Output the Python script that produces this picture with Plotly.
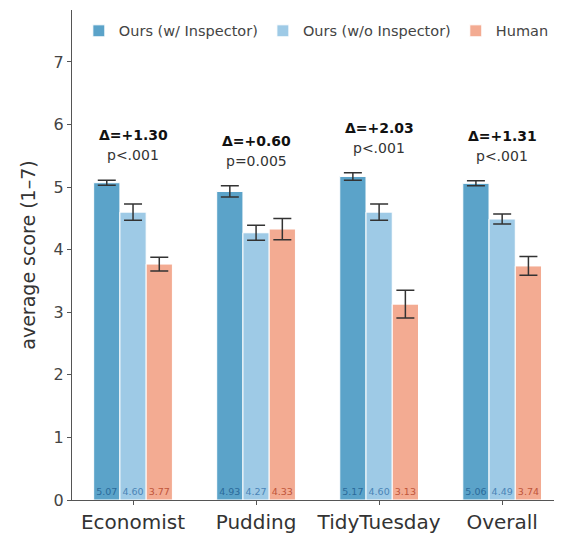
import plotly.graph_objects as go

categories = ["Economist", "Pudding", "TidyTuesday", "Overall"]
series_names = ["Ours (w/ Inspector)", "Ours (w/o Inspector)", "Human"]
with_inspector = [5.07, 4.93, 5.17, 5.06]
without_inspector = [4.60, 4.27, 4.60, 4.49]
human = [3.77, 4.33, 3.13, 3.74]
err_with = [0.04, 0.09, 0.06, 0.04]
err_without = [0.13, 0.12, 0.13, 0.08]
err_human = [0.11, 0.17, 0.22, 0.15]
deltas = ["Δ=+1.30", "Δ=+0.60", "Δ=+2.03", "Δ=+1.31"]
pvals = ["p<.001", "p=0.005", "p<.001", "p<.001"]
y_ticks = [0, 1, 2, 3, 4, 5, 6, 7]

bar_colors = ["#5ba3c9", "#9ecae6", "#f3ab92"]
label_colors = ["#2a6a9a", "#4a84b6", "#c0553a"]
FONT = "DejaVu Sans"

values = [with_inspector, without_inspector, human]
errors = [err_with, err_without, err_human]

fig = go.Figure()
for name, vals, errs, col, lcol in zip(series_names, values, errors, bar_colors, label_colors):
    fig.add_trace(go.Bar(
        name=name, x=categories, y=vals,
        marker=dict(color=col, line=dict(color="white", width=1)),
        error_y=dict(type="data", array=errs, visible=True, color="#333333", thickness=1.5, width=9),
        text=[f"{v:.2f}" for v in vals],
        textposition="inside", insidetextanchor="start", textangle=0,
        insidetextfont=dict(size=9.5, color=lcol, family=FONT),
        constraintext="none",
    ))

for i, cat in enumerate(categories):
    top = max(v[i] + e[i] for v, e in zip(values, errors))
    fig.add_annotation(x=cat, y=top + 0.72, text=f"<b>{deltas[i]}</b>", showarrow=False,
                       font=dict(size=14, color="#111111", family=FONT), yanchor="middle")
    fig.add_annotation(x=cat, y=top + 0.40, text=pvals[i], showarrow=False,
                       font=dict(size=14, color="#333333", family=FONT), yanchor="middle")

# the page body has an 8px margin, so the figure is sized to fit the 562x537 window
fig.update_layout(
    width=554, height=529,
    margin=dict(l=64, r=2, t=2, b=37),
    barmode="group", bargap=0.36, bargroupgap=0.0,
    plot_bgcolor="white", paper_bgcolor="white",
    font=dict(family=FONT, color="#333333"),
    showlegend=True,
    legend=dict(orientation="h", x=0.014, y=0.99, xanchor="left", yanchor="top",
                font=dict(size=14.5, color="#444444", family=FONT), bgcolor="rgba(0,0,0,0)",
                itemwidth=30),
    xaxis=dict(range=[-0.496, 3.47], showline=True, linecolor="#555555", linewidth=1.2,
               ticks="outside", ticklen=4, tickcolor="#555555",
               tickfont=dict(size=20, color="#333333", family=FONT), showgrid=False),
    yaxis=dict(range=[0, 7.83], tickvals=y_ticks, showline=True, linecolor="#555555", linewidth=1.2,
               ticks="outside", ticklen=4, tickcolor="#555555",
               tickfont=dict(size=16, color="#444444", family=FONT), showgrid=False, zeroline=False,
               title=dict(text="average score (1–7)", font=dict(size=19, color="#333333", family=FONT), standoff=12)),
)

fig.write_html("out.html")
